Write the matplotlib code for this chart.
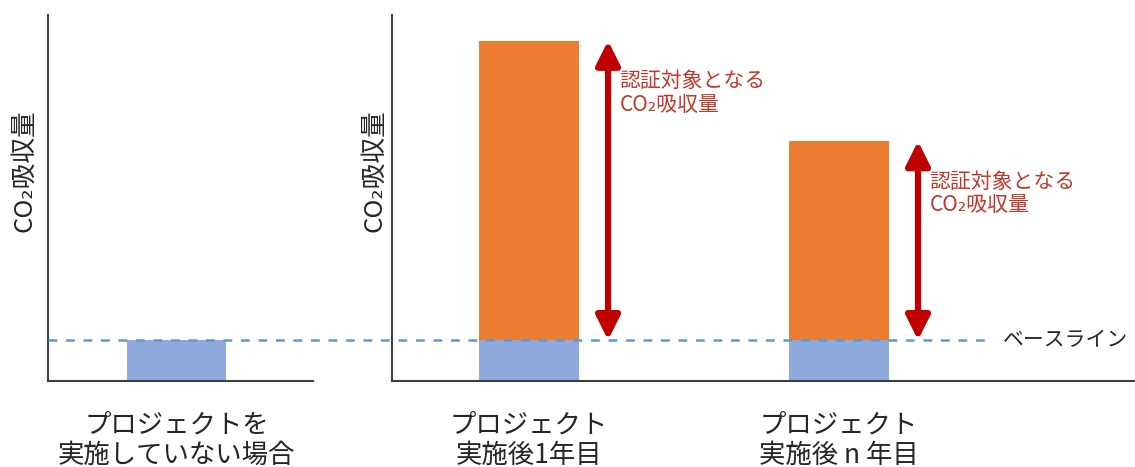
import matplotlib
matplotlib.use("Agg")
import matplotlib.pyplot as plt

plt.rcParams['font.family'] = ['Noto Sans CJK JP', 'DejaVu Sans']

# Data (baseline = 1 unit)
left_label = "プロジェクトを\n実施していない場合"
right_labels = ["プロジェクト\n実施後1年目", "プロジェクト\n実施後 n 年目"]
baseline = 1.0
project_totals = [8.3, 5.85]
note = "認証対象となる\nCO₂吸収量"
ylabel = "CO₂吸収量"
y_max = 8.93

blue = "#8EA9DB"
orange = "#ED7D31"
dash_blue = "#5B9BD5"
dark_red = "#C00000"
text_red = "#C0392B"
axis_col = "#404040"

fig = plt.figure(figsize=(11.35, 4.67), dpi=100)
ax_l = fig.add_axes([0.0423, 0.184, 0.2335, 0.784])
ax_r = fig.add_axes([0.3454, 0.184, 0.6546, 0.784])

for ax in (ax_l, ax_r):
    ax.set_ylim(0, y_max)
    for s in ("top", "right"):
        ax.spines[s].set_visible(False)
    for s in ("left", "bottom"):
        ax.spines[s].set_color(axis_col)
        ax.spines[s].set_linewidth(1.5)
    ax.tick_params(left=False, bottom=False, labelleft=False, labelsize=19,
                   length=0, pad=22, colors="#262626")

# left panel
ax_l.set_xlim(-1.036, 1.10)
ax_l.bar([0], [baseline], width=0.8, color=blue, zorder=2)
ax_l.set_xticks([0])
ax_l.set_xticklabels([left_label], linespacing=1.15)
ax_l.set_ylabel(ylabel, fontsize=18.5, color="#262626")
ax_l.yaxis.set_label_coords(-0.042, 0.574)

# right panel
xs = [0, 1]
ax_r.set_xlim(-0.442, 1.955)
ax_r.bar(xs, [baseline] * 2, width=0.323, color=blue, zorder=2)
ax_r.bar(xs, [t - baseline for t in project_totals], bottom=baseline,
         width=0.323, color=orange, zorder=2)
ax_r.set_xticks(xs)
ax_r.set_xticklabels(right_labels, linespacing=1.15)
ax_r.set_ylabel(ylabel, fontsize=18.5, color="#262626")
ax_r.yaxis.set_label_coords(-0.0067, 0.574)

for x, top in zip(xs, project_totals):
    ax_r.annotate("", xy=(x + 0.255, top), xytext=(x + 0.255, baseline),
                  arrowprops=dict(arrowstyle="<|-|>,head_length=0.8,head_width=0.4",
                                  mutation_scale=18, lw=4.5, color=dark_red,
                                  shrinkA=0, shrinkB=0), zorder=4)
    ax_r.text(x + 0.292, top - 0.72, note, color=text_red, fontsize=15,
              va="top", ha="left", linespacing=1.1)

# dashed baseline spanning both panels
x0 = ax_r.get_xlim()[0] - (0.3454 - 0.0423) * 1135 / 310
ax_r.plot([x0, 1.477], [baseline, baseline], ls=(0, (3.5, 3.5)), lw=1.8,
          color=dash_blue, clip_on=False, zorder=3)
ax_r.text(1.529, baseline, "ベースライン", fontsize=15, va="center",
          ha="left", color="#262626")

fig.savefig("out.png", dpi=100)
